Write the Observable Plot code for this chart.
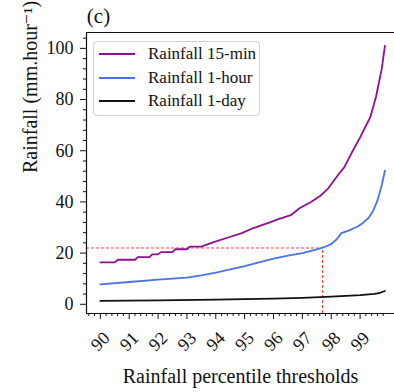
<!DOCTYPE html>
<html>
<head>
<meta charset="utf-8">
<script src="https://cdn.jsdelivr.net/npm/d3@7"></script>
<script src="https://cdn.jsdelivr.net/npm/@observablehq/plot@0.6"></script>
<style>
  body { margin: 0; background: #fff; }
  #wrap { position: relative; width: 394px; height: 392px; font-family: 'Liberation Serif', 'DejaVu Serif', 'Times New Roman', serif; }
  #wrap svg text { font-family: 'Liberation Serif', 'DejaVu Serif', 'Times New Roman', serif; }
  #legend { position: absolute; left: 93px; top: 41px; width: 167px; height: 75px; border: 1px solid #d0d0d0; border-radius: 4px; background: rgba(255,255,255,0.85); box-sizing: border-box; }
  .item { position: absolute; left: 0; height: 20px; display: flex; align-items: center; font-size: 17px; color: #111; font-family: 'Liberation Serif', 'DejaVu Serif', serif; }
  .item .sw { width: 36px; height: 0; border-top: 2px solid; margin-left: 5px; margin-right: 13px; }
</style>
</head>
<body>
<div id="wrap"><div id="legend"></div></div>
<script>
// Percentile thresholds and values (mm/hour)
const p15 = [90.0, 90.5, 90.6, 91.2, 91.3, 91.7, 91.8, 92.0, 92.1, 92.5, 92.6, 93.0, 93.1, 93.5, 93.9, 94.4, 94.9, 95.3, 95.8, 96.2, 96.6, 96.9, 97.3, 97.6, 97.9, 98.1, 98.3, 98.45, 98.7, 99.0, 99.35, 99.55, 99.75, 99.86];
const v15 = [16.4, 16.4, 17.4, 17.4, 18.4, 18.4, 19.5, 19.5, 20.4, 20.4, 21.5, 21.5, 22.5, 22.5, 24.2, 26.0, 27.8, 29.8, 31.7, 33.4, 34.8, 37.5, 40.0, 42.2, 45.3, 48.5, 51.5, 53.5, 59.0, 65.2, 73.0, 81.0, 92.0, 101.0];
const p1h = [90.0, 91.0, 92.0, 93.0, 93.5, 94.0, 94.5, 95.0, 95.5, 96.0, 96.5, 97.0, 97.5, 97.7, 98.0, 98.2, 98.35, 98.6, 98.9, 99.1, 99.3, 99.45, 99.6, 99.75, 99.86];
const v1h = [7.8, 8.7, 9.6, 10.4, 11.3, 12.4, 13.6, 14.9, 16.4, 17.8, 19.0, 20.0, 21.5, 22.1, 23.5, 25.5, 27.8, 28.8, 30.3, 31.8, 33.8, 36.5, 40.5, 46.5, 52.2];
const p1d = [90.0, 92.0, 94.0, 96.0, 97.0, 98.0, 98.5, 99.0, 99.5, 99.7, 99.86];
const v1d = [1.3, 1.5, 1.8, 2.2, 2.5, 3.0, 3.3, 3.6, 4.1, 4.5, 5.2];
const seriesNames = ["Rainfall 15-min", "Rainfall 1-hour", "Rainfall 1-day"];
const seriesColors = ["#8e0f93", "#4a72ee", "#111111"];
const xTicks = [90, 91, 92, 93, 94, 95, 96, 97, 98, 99];
const xTickLabels = ["90", "91", "92", "93", "94", "95", "96", "97", "98", "99"];
const yTicks = [0, 20, 40, 60, 80, 100];
const refValue = 22;      // red dashed reference rainfall
const refPercentile = 97.7; // percentile where 1-hour reaches refValue

const xDomain = [89.52, 100.4];
const yDomain = [-3.6, 106.2];

const xMinor = d3.range(89.6, 99.81, 0.2).map(v => +v.toFixed(1)).filter(v => !xTicks.includes(v));
const yMinor = d3.range(0, 105, 4).filter(v => !yTicks.includes(v));

const toRows = (ps, vs, s) => ps.map((p, i) => ({p, v: vs[i], s}));
const rows = [
  ...toRows(p15, v15, seriesNames[0]),
  ...toRows(p1h, v1h, seriesNames[1]),
  ...toRows(p1d, v1d, seriesNames[2])
];

const serif = "'Liberation Serif', 'DejaVu Serif', 'Times New Roman', serif";

const chart = Plot.plot({
  width: 394,
  height: 392,
  marginTop: 32,
  marginBottom: 79,
  marginLeft: 86,
  marginRight: 0,
  style: {fontFamily: serif, fontSize: "18px", color: "#111", background: "transparent", overflow: "visible"},
  x: {domain: xDomain, range: [86, 400]},
  y: {domain: yDomain},
  color: {domain: seriesNames, range: seriesColors},
  marks: [
    // dashed reference lines
    Plot.ruleY([refValue], {x1: xDomain[0], x2: refPercentile, stroke: "#ff2a2a", strokeWidth: 0.9, strokeDasharray: "3,2"}),
    Plot.ruleX([refPercentile], {y1: yDomain[0], y2: refValue, stroke: "#ff2a2a", strokeWidth: 0.9, strokeDasharray: "3,2"}),
    // series
    Plot.line(rows, {x: "p", y: "v", z: "s", stroke: "s", strokeWidth: 1.8, curve: "linear"}),
    // spines (left, top, bottom)
    Plot.ruleX([xDomain[0]], {stroke: "#111", strokeWidth: 1.2}),
    Plot.ruleY([yDomain[1]], {x1: xDomain[0], x2: xDomain[1], stroke: "#111", strokeWidth: 1.2}),
    Plot.ruleY([yDomain[0]], {x1: xDomain[0], x2: xDomain[1], stroke: "#111", strokeWidth: 1.2}),
    // y axis
    Plot.axisY({ticks: yTicks, tickSize: 6, tickPadding: 7, label: null, fontSize: 18, fontFamily: serif, strokeWidth: 1}),
    Plot.axisY({ticks: yMinor, tickSize: 3, tickFormat: () => "", label: null, strokeWidth: 1}),
    // x axis ticks
    Plot.axisX({ticks: xTicks, tickSize: 6, tickFormat: () => "", label: null, strokeWidth: 1}),
    Plot.axisX({ticks: xMinor, tickSize: 3, tickFormat: () => "", label: null, strokeWidth: 1}),
    // rotated x tick labels centred under ticks
    Plot.text(xTicks, {x: d => d, text: (d, i) => xTickLabels[i], frameAnchor: "bottom", dy: 28, rotate: -45, textAnchor: "middle", lineAnchor: "middle", fontSize: 18, fontFamily: serif}),
    // axis titles and panel title
    Plot.text(["Rainfall percentile thresholds"], {frameAnchor: "bottom", dy: 63, lineAnchor: "middle", fontSize: 20, fontFamily: serif}),
    Plot.text(["Rainfall (mm.hour⁻¹)"], {frameAnchor: "left", dx: -56, rotate: -90, lineAnchor: "middle", fontSize: 20, fontFamily: serif}),
    Plot.text(["(c)"], {frameAnchor: "top-left", dx: 12, dy: -16, lineAnchor: "middle", textAnchor: "middle", fontSize: 21, fontFamily: serif})
  ]
});
const wrap = document.getElementById("wrap");
wrap.insertBefore(chart, wrap.firstChild);

const legend = document.getElementById("legend");
seriesNames.forEach((name, i) => {
  const item = document.createElement("div");
  item.className = "item";
  item.style.top = (2 + i * 23.5) + "px";
  const sw = document.createElement("span");
  sw.className = "sw";
  sw.style.borderTopColor = seriesColors[i];
  const t = document.createElement("span");
  t.textContent = name;
  item.appendChild(sw);
  item.appendChild(t);
  legend.appendChild(item);
});
</script>
</body>
</html>
